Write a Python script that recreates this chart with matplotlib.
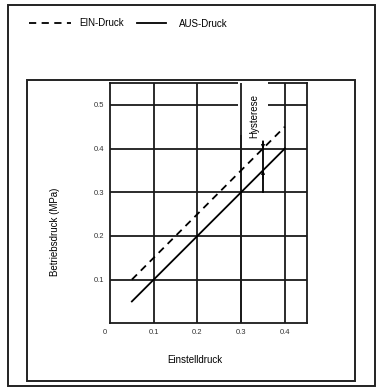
import matplotlib.pyplot as plt
from matplotlib.patches import Rectangle

plt.rcParams['font.family'] = ['Liberation Sans', 'DejaVu Sans']

# data
einstell = [0.05, 0.40]
ein_druck = [0.10, 0.45]
aus_druck = [0.05, 0.40]
x_ticks = [0.1, 0.2, 0.3, 0.4]
y_ticks = [0.1, 0.2, 0.3, 0.4, 0.5]
hyst_x = 0.35
hyst_y = [0.30, 0.415]

W, H = 376, 387
fig = plt.figure(figsize=(W / 100, H / 100), dpi=100)

def fx(px):
    return px / W

def fy(py):
    return 1 - py / H

LW = 1.3

# frames around the figure
fig.patches.append(Rectangle((fx(7.5), fy(385.5)), fx(375) - fx(7.5), fy(5) - fy(385.5),
                             transform=fig.transFigure, fill=False, lw=1.4, ec='#222222'))
fig.patches.append(Rectangle((fx(27), fy(381)), fx(355) - fx(27), fy(80) - fy(381),
                             transform=fig.transFigure, fill=False, lw=1.4, ec='#222222'))

ax = fig.add_axes([fx(110), fy(323.3), fx(306.7) - fx(110), fy(83) - fy(323.3)])
ax.set_xlim(0, 0.45)
ax.set_ylim(0, 0.55)

for t in x_ticks:
    ax.axvline(t, color='#1a1a1a', lw=LW, zorder=1)
for t in y_ticks:
    ax.axhline(t, color='#1a1a1a', lw=LW, zorder=1)
for s in ax.spines.values():
    s.set_linewidth(LW)
    s.set_color('#1a1a1a')

ax.plot(einstell, ein_druck, color='black', lw=LW, ls=(0, (4, 3)), zorder=5)
ax.plot(einstell, aus_druck, color='black', lw=LW, zorder=5)

# white gap behind "Hysterese"
ax.add_patch(Rectangle((0.292, 0.43), 0.069, 0.14, fc='white', ec='none',
                       zorder=3, clip_on=False))
ax.axvline(0.3, color='#1a1a1a', lw=LW, zorder=4)
ax.text(0.331, 0.475, 'Hysterese', rotation=90, ha='center', va='center',
        fontsize=7, zorder=6)

ax.plot([hyst_x, hyst_x], hyst_y, color='black', lw=LW, zorder=5)
ax.annotate('', xy=(hyst_x, 0.40), xytext=(hyst_x, 0.418),
            arrowprops=dict(arrowstyle='-|>', color='black', lw=0.8,
                            mutation_scale=5, shrinkA=0, shrinkB=0), zorder=6)
ax.annotate('', xy=(hyst_x, 0.35), xytext=(hyst_x, 0.33),
            arrowprops=dict(arrowstyle='-|>', color='black', lw=0.8,
                            mutation_scale=5, shrinkA=0, shrinkB=0), zorder=6)

ax.set_xticks(x_ticks)
ax.set_xticklabels([str(t) for t in x_ticks])
ax.set_yticks(y_ticks)
ax.set_yticklabels([str(t) for t in y_ticks])
ax.tick_params(length=0, labelsize=5.5, pad=4, labelcolor='#333333')
ax.text(-0.012, -0.012, '0', ha='center', va='top', fontsize=5.5, color='#333333')

fig.text(fx(55), fy(232), 'Betriebsdruck (MPa)', rotation=90, ha='center',
         va='center', fontsize=7)
fig.text(fx(195), fy(360), 'Einstelldruck', ha='center', va='center', fontsize=7)

# legend drawn by hand at the top
fig.add_artist(plt.Line2D([fx(29), fx(71)], [fy(23), fy(23)], color='black',
                          lw=LW, ls=(0, (4, 3))))
fig.text(fx(79), fy(23), 'EIN-Druck', ha='left', va='center', fontsize=7)
fig.add_artist(plt.Line2D([fx(137), fx(166)], [fy(23), fy(23)], color='black', lw=LW))
fig.text(fx(179), fy(24), 'AUS-Druck', ha='left', va='center', fontsize=7)

fig.savefig('out.png', dpi=100)
